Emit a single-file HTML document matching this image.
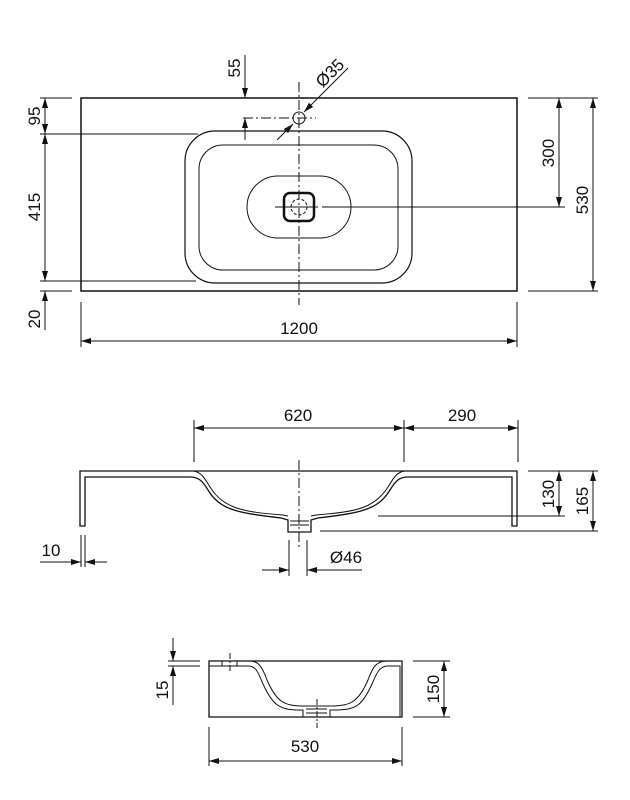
<!DOCTYPE html>
<html><head><meta charset="utf-8"><style>
html,body{margin:0;padding:0;background:#fff}
svg{display:block}
text{font-family:"Liberation Sans",Arial,sans-serif;fill:#111}
</style></head><body>
<svg width="630" height="800" viewBox="0 0 630 800" xmlns="http://www.w3.org/2000/svg">
<defs>
<marker id="a" viewBox="0 0 10 6" refX="10" refY="3" markerWidth="10" markerHeight="6" markerUnits="userSpaceOnUse" orient="auto-start-reverse"><path d="M0,0L10,3L0,6z" fill="#111"/></marker>
</defs>
<g stroke="#111" stroke-width="1" fill="none">
<!-- TOP VIEW -->
<rect x="81" y="98" width="436" height="193" stroke-width="1.5"/>
<rect x="185" y="131" width="227" height="152" rx="30" stroke-width="1.2"/>
<rect x="199" y="145" width="199" height="125" rx="24"/>
<rect x="247" y="176" width="104" height="62" rx="31"/>
<rect x="284" y="193" width="30" height="28" rx="6" stroke-width="2.5"/>
<circle cx="299" cy="207" r="8" stroke-dasharray="3 2"/>
<line x1="299" y1="82" x2="299" y2="305" stroke-dasharray="10 3 2 3"/>
<line x1="275" y1="207" x2="318" y2="207"/>
<line x1="322" y1="207" x2="565" y2="207"/>
<circle cx="299" cy="118" r="6"/>
<line x1="243" y1="118" x2="316" y2="118" stroke-dasharray="10 3 2 3"/>
<!-- left dims -->
<line x1="40" y1="98" x2="72" y2="98"/>
<line x1="40" y1="134" x2="198" y2="134"/>
<line x1="40" y1="281" x2="196" y2="281"/>
<line x1="40" y1="291" x2="72" y2="291"/>
<line x1="45" y1="98" x2="45" y2="134" marker-start="url(#a)" marker-end="url(#a)"/>
<line x1="45" y1="134" x2="45" y2="281" marker-start="url(#a)" marker-end="url(#a)"/>
<line x1="45" y1="330" x2="45" y2="291" marker-end="url(#a)"/>
<!-- 55 -->
<line x1="245" y1="55" x2="245" y2="98" marker-end="url(#a)"/>
<line x1="245" y1="140" x2="245" y2="118" marker-end="url(#a)"/>
<!-- Ø35 -->
<line x1="348" y1="68" x2="304" y2="112" marker-end="url(#a)"/>
<line x1="277" y1="140" x2="293" y2="124" marker-end="url(#a)"/>
<!-- right dims -->
<line x1="528" y1="98" x2="598" y2="98"/>
<line x1="528" y1="291" x2="598" y2="291"/>
<line x1="559" y1="98" x2="559" y2="207" marker-start="url(#a)" marker-end="url(#a)"/>
<line x1="593" y1="98" x2="593" y2="291" marker-start="url(#a)" marker-end="url(#a)"/>
<!-- 1200 -->
<line x1="81" y1="302" x2="81" y2="347"/>
<line x1="517" y1="302" x2="517" y2="347"/>
<line x1="81" y1="341" x2="517" y2="341" marker-start="url(#a)" marker-end="url(#a)"/>

<!-- FRONT VIEW -->
<path d="M80,526 V471 H517 V526 H512 V477 H408 C400,477 396,480 390,490 C378,510 360,513 318,518 L311,520 V532 H288 V520 L281,518 C238,513 220,510 208,490 C202,480 198,477 190,477 H85 V526 Z" stroke-width="1.3"/>
<path d="M193,471 C201,472 204,477 210,487 C223,508 242,512 283,515 L288,516" />
<path d="M405,471 C397,472 394,477 388,487 C375,508 356,512 316,515 L311,516"/>
<line x1="290" y1="521" x2="309" y2="521"/><line x1="290" y1="525" x2="309" y2="525"/>
<line x1="299" y1="460" x2="299" y2="548" stroke-dasharray="10 3 2 3"/>
<line x1="194" y1="420" x2="194" y2="462"/>
<line x1="404" y1="420" x2="404" y2="462"/>
<line x1="518" y1="420" x2="518" y2="462"/>
<line x1="194" y1="428" x2="404" y2="428" marker-start="url(#a)" marker-end="url(#a)"/>
<line x1="404" y1="428" x2="518" y2="428" marker-start="url(#a)" marker-end="url(#a)"/>
<line x1="528" y1="471" x2="598" y2="471"/>
<line x1="378" y1="516" x2="565" y2="516"/>
<line x1="320" y1="531" x2="598" y2="531"/>
<line x1="559" y1="471" x2="559" y2="516" marker-start="url(#a)" marker-end="url(#a)"/>
<line x1="593" y1="471" x2="593" y2="531" marker-start="url(#a)" marker-end="url(#a)"/>
<line x1="81" y1="535" x2="81" y2="567"/>
<line x1="85" y1="535" x2="85" y2="567"/>
<line x1="40" y1="562" x2="81" y2="562" marker-end="url(#a)"/>
<line x1="107" y1="562" x2="85" y2="562" marker-end="url(#a)"/>
<line x1="289" y1="540" x2="289" y2="576"/>
<line x1="307" y1="540" x2="307" y2="576"/>
<line x1="262" y1="570" x2="289" y2="570" marker-end="url(#a)"/>
<line x1="362" y1="570" x2="307" y2="570" marker-end="url(#a)"/>

<!-- SIDE VIEW -->
<path d="M209,717 V661 H402 V717 Z" stroke-width="1.3"/>
<path d="M209,666 H248 C256,666 258,672 263,684 C273,706 280,709 296,710 H303 V717 H330 V710 H338 C356,709 362,706 372,684 C377,672 380,666 388,666 H400 V717"/>
<path d="M250,661 C258,661 262,666 267,680 C277,703 285,705 300,706 H334 C350,705 358,703 368,680 C373,666 377,661 387,661"/>
<line x1="306" y1="709" x2="327" y2="709"/><line x1="306" y1="713" x2="327" y2="713"/>
<line x1="222" y1="661" x2="222" y2="666"/><line x1="237" y1="661" x2="237" y2="666"/>
<line x1="230" y1="653" x2="230" y2="673" stroke-dasharray="6 2 2 2"/>
<line x1="317" y1="699" x2="317" y2="728" stroke-dasharray="6 2 2 2"/>
<line x1="168" y1="661" x2="200" y2="661"/>
<line x1="168" y1="666" x2="200" y2="666"/>
<line x1="173" y1="638" x2="173" y2="661" marker-end="url(#a)"/>
<line x1="173" y1="705" x2="173" y2="666" marker-end="url(#a)"/>
<line x1="413" y1="661" x2="450" y2="661"/>
<line x1="413" y1="717" x2="450" y2="717"/>
<line x1="444" y1="661" x2="444" y2="717" marker-start="url(#a)" marker-end="url(#a)"/>
<line x1="209" y1="727" x2="209" y2="766"/>
<line x1="402" y1="727" x2="402" y2="766"/>
<line x1="209" y1="761" x2="402" y2="761" marker-start="url(#a)" marker-end="url(#a)"/>
</g>
<g font-size="17">
<text x="299" y="334" text-anchor="middle">1200</text>
<text transform="translate(40,116) rotate(-90)" text-anchor="middle">95</text>
<text transform="translate(40,207) rotate(-90)" text-anchor="middle">415</text>
<text transform="translate(40,319) rotate(-90)" text-anchor="middle">20</text>
<text transform="translate(240,68) rotate(-90)" text-anchor="middle">55</text>
<text transform="translate(334,77) rotate(-45)" text-anchor="middle">Ø35</text>
<text transform="translate(554,153) rotate(-90)" text-anchor="middle">300</text>
<text transform="translate(588,200) rotate(-90)" text-anchor="middle">530</text>
<text x="298" y="421" text-anchor="middle">620</text>
<text x="462" y="421" text-anchor="middle">290</text>
<text transform="translate(554,494) rotate(-90)" text-anchor="middle">130</text>
<text transform="translate(588,501) rotate(-90)" text-anchor="middle">165</text>
<text x="51" y="556" text-anchor="middle">10</text>
<text x="346" y="563" text-anchor="middle">Ø46</text>
<text transform="translate(168,690) rotate(-90)" text-anchor="middle">15</text>
<text transform="translate(439,689) rotate(-90)" text-anchor="middle">150</text>
<text x="305" y="752" text-anchor="middle">530</text>
</g>
</svg>
</body></html>
